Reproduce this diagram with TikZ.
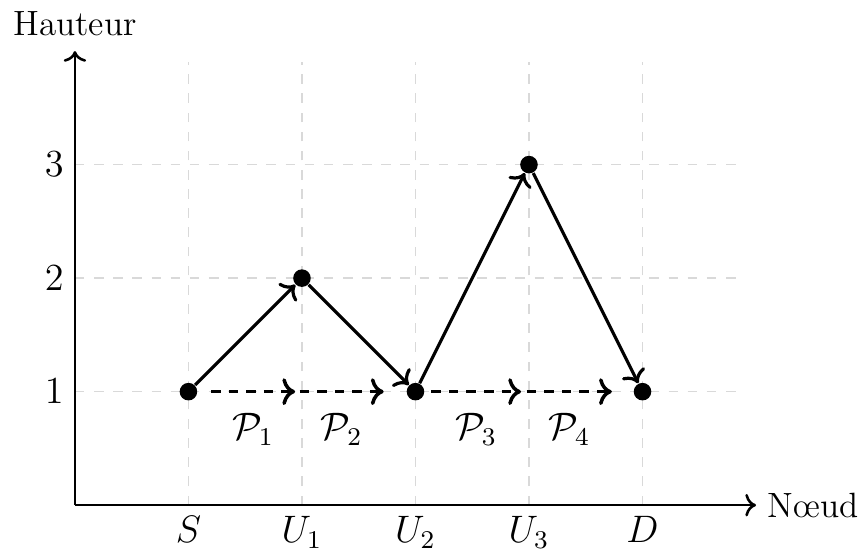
\documentclass[tikz,border=0pt]{standalone}
\usepackage{xcolor}
\usetikzlibrary{arrows.meta, positioning, calc}

\begin{document}
\begin{tikzpicture}[x=1.25cm, y=1.25cm,
    vertex/.style={circle, fill=black, minimum size=5.5pt, inner sep=0pt},
    hop/.style={line width=1pt, ->},
    subpath/.style={line width=1.1pt, dash pattern=on 3pt off 2.5pt, ->},
    gridline/.style={gray!30, dashed, thin},
    axis/.style={thick, ->},
    axislbl/.style={font=\fontsize{11}{13}\selectfont},
    lbl/.style={font=\large}]
    \useasboundingbox (-0.66,-0.39) rectangle (6.96,4.45);
    \foreach \x in {1,...,5}
        \draw[gridline] (\x,0) -- (\x,3.9);
    \foreach \y in {1,2,3}
        \draw[gridline] (0,\y) -- (5.9,\y);
    \draw[axis] (0,0) -- (6,0) node[axislbl, right] {Nœud};
    \draw[axis] (0,0) -- (0,4) node[axislbl, above=1pt] {Hauteur};
    \foreach \y in {1,2,3}
        \node[lbl, left] (t\y) at (0,\y) {$\y$};
    \foreach \x/\name in {1/S, 2/U_1, 3/U_2, 4/U_3, 5/D}
        \node[lbl, below] (n\x) at (\x,0) {$\name$};
    \node[vertex] (S) at (1,1) {};
    \node[vertex] (U1) at (2,2) {};
    \node[vertex] (U2) at (3,1) {};
    \node[vertex] (U3) at (4,3) {};
    \node[vertex] (D) at (5,1) {};
    \draw[hop] (S) -- (U1);
    \draw[hop] (U1) -- (U2);
    \draw[hop] (U2) -- (U3);
    \draw[hop] (U3) -- (D);
    \foreach \a/\b/\i in {1.2/1.94/1, 1.98/2.72/2, 3.14/3.93/3, 3.98/4.73/4} {
        \coordinate (p\i s) at (\a,1);
        \coordinate (p\i e) at (\b,1);
        \draw[subpath] (p\i s) -- node[lbl, below=3pt] {$\mathcal{P}_\i$} (p\i e);
    }
\end{tikzpicture}
\end{document}
